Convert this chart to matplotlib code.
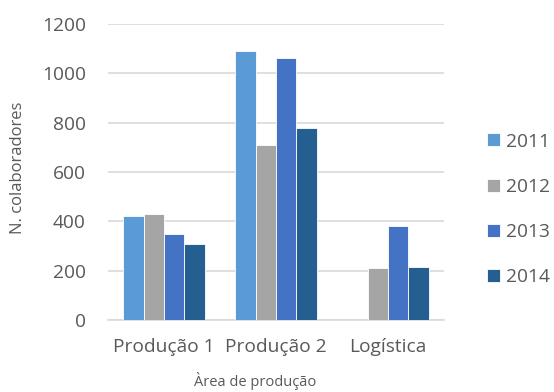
import matplotlib.pyplot as plt
import numpy as np

plt.rcParams['font.family'] = ['Open Sans', 'DejaVu Sans']

# Data
areas = ['Produção 1', 'Produção 2', 'Logística']
years = ['2011', '2012', '2013', '2014']
v2011 = [422, 1092, 0]
v2012 = [430, 710, 212]
v2013 = [347, 1061, 383]
v2014 = [307, 780, 216]
colors = ['#5B9BD5', '#A5A5A5', '#4472C4', '#255E91']
grey = '#595959'

fig = plt.figure(figsize=(5.54, 3.92), dpi=100)
ax = fig.add_axes([108 / 554, 72 / 392, 336 / 554, 296 / 392])

x = np.arange(len(areas))
w = 0.181
for i, (vals, c) in enumerate(zip([v2011, v2012, v2013, v2014], colors)):
    ax.bar(x + (i - 1.5) * w, vals, w, color=c, edgecolor='white',
           linewidth=0.6, label=years[i], zorder=3)

ax.set_xlim(-0.5, 2.5)
ax.set_ylim(0, 1200)
ax.set_yticks(range(0, 1201, 200))
ax.set_xticks(x)
ax.set_xticklabels(areas)
ax.grid(axis='y', color='#d9d9d9', linewidth=1.2, zorder=0)
for s in ['top', 'right', 'left']:
    ax.spines[s].set_visible(False)
ax.spines['bottom'].set_color('#d9d9d9')
ax.spines['bottom'].set_linewidth(1.2)
ax.tick_params(axis='both', length=0, colors=grey, labelsize=13.8)
ax.tick_params(axis='y', pad=16)
ax.tick_params(axis='x', pad=13)

# axis titles
fig.text(18 / 554, 1 - 167.5 / 392, 'N. colaboradores', rotation=90,
         ha='center', va='center', color=grey, fontsize=12)
fig.text(255 / 554, 1.5 / 392, 'Àrea de produção',
         ha='center', va='bottom', color=grey, fontsize=10.5)

fig.legend(loc='center left', bbox_to_anchor=(487 / 554, 1 - 209.5 / 392),
           frameon=False, handlelength=0.67, handleheight=0.67,
           handletextpad=0.3, labelspacing=1.42, fontsize=13.8,
           borderpad=0, borderaxespad=0, labelcolor=grey)

fig.savefig('out.png', dpi=100)
